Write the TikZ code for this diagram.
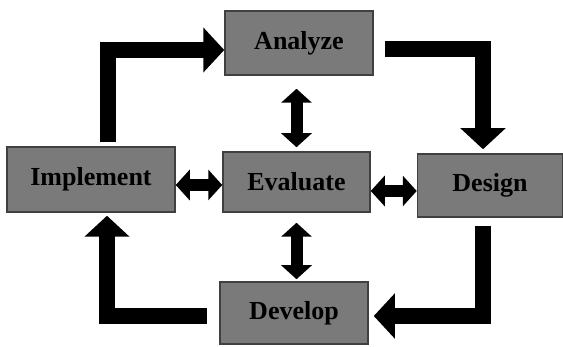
\documentclass[tikz,border=0pt]{standalone}
\usepackage{fontspec}
\setmainfont{Liberation Serif}
\usetikzlibrary{arrows.meta}
\tikzset{
  stagebox/.style={rectangle, fill=black!52, draw=black!75, line width=1.5pt,
    inner sep=0pt, font=\fontsize{26}{28}\selectfont\bfseries, text=black},
  bigarrow/.style={line width=16pt, line join=miter, draw=black,
    -{Triangle[width=44pt,length=21pt]}},
  dblarrow/.style={line width=12pt, draw=black,
    {Triangle[width=30pt,length=14pt]}-{Triangle[width=30pt,length=14pt]}}
}
\begin{document}
\begin{tikzpicture}[x=1pt,y=-1pt]
\useasboundingbox (0,0) rectangle (563,347);
\fill[white] (0,0) rectangle (563,347);
\node[stagebox, minimum width=148pt, minimum height=64pt] (ana) at (299,43) {Analyze};
\node[stagebox, minimum width=168pt, minimum height=65pt] (impl) at (91,179.5) {Implement};
\node[stagebox, minimum width=147pt, minimum height=60pt] (eva) at (296.5,182) {Evaluate};
\node[stagebox, minimum width=145pt, minimum height=63pt] (des) at (490,185.5) {Design};
\node[stagebox, minimum width=148pt, minimum height=62pt] (dev) at (294,313) {Develop};
% cycle arrows
\draw[bigarrow] ([xshift=17pt,yshift=4pt]impl.north) |- ([yshift=-7pt]ana.west);
\draw[bigarrow] ([xshift=11pt,yshift=-6pt]ana.east) -| ([xshift=-7pt,yshift=4pt]des.north);
\draw[bigarrow] ([xshift=-7pt,yshift=-8pt]des.south) |- ([xshift=5pt,yshift=-3pt]dev.east);
\draw[bigarrow] ([xshift=-12pt,yshift=-3pt]dev.west) -| ([xshift=16pt,yshift=-3pt]impl.south);
% double arrows to Evaluate
\draw[dblarrow] ([yshift=-13pt]eva.north |- ana.south) -- ([yshift=4pt]eva.north);
\draw[dblarrow] ([yshift=-10pt]eva.south) -- ([yshift=2pt]eva.south |- dev.north);
\draw[dblarrow] ([yshift=-3pt]impl.east |- eva.west) -- ([yshift=-3pt]eva.west);
\draw[dblarrow] ([yshift=-9pt]eva.east) -- ([yshift=-9pt]eva.east -| des.west);
\end{tikzpicture}
\end{document}
